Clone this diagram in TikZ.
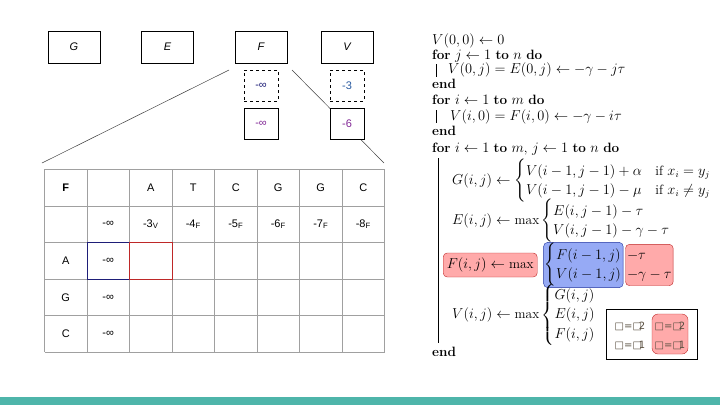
\documentclass[tikz,border=0pt]{standalone}
\usepackage{amsmath}
\usepackage{fontspec}
\setsansfont{Liberation Sans}
\newfontfamily\dv{DejaVu Sans}
\definecolor{teal1}{RGB}{78,181,170}
\definecolor{gridc}{RGB}{160,160,160}
\definecolor{navyc}{RGB}{30,30,120}
\definecolor{purp}{RGB}{130,40,150}
\definecolor{blu3}{RGB}{40,90,160}
\definecolor{redfill}{RGB}{255,170,170}
\definecolor{redline}{RGB}{190,40,40}
\definecolor{bluefill}{RGB}{150,170,245}
\definecolor{blueline}{RGB}{30,50,160}
\definecolor{glyph}{RGB}{90,80,65}
\begin{document}
\begin{tikzpicture}[x=1pt,y=-1pt,
  topbox/.style={draw, minimum width=52pt, minimum height=32pt, inner sep=0pt, font=\sffamily\itshape\fontsize{11}{13}\selectfont},
  valbox/.style={draw, fill=white, minimum width=34pt, minimum height=31pt, inner sep=0pt, font=\sffamily\fontsize{11}{13}\selectfont},
  tc/.style={inner sep=0pt, font=\sffamily\fontsize{11}{13}\selectfont},
  alg/.style={inner sep=0pt, anchor=base west, font=\fontsize{13.5}{16}\selectfont},
  algc/.style={inner sep=0pt, anchor=west, font=\fontsize{13.5}{16}\selectfont},
  redhl/.style={draw=redline, fill=redfill, rounded corners=4pt, inner sep=1.5pt},
  bluehl/.style={draw=blueline, fill=bluefill, rounded corners=4pt, inner sep=1pt},
  conn/.style={draw=black!75, line width=0.5pt},
  gl/.style={draw=gridc, line width=0.8pt}
]
\useasboundingbox (0,0) rectangle (720,405);
\fill[teal1] (0,397) rectangle (720,405);

% top boxes
\node[topbox] (G) at (74,47) {G};
\node[topbox] (E) at (167.5,47) {E};
\node[topbox] (F) at (261,47) {F};
\node[topbox] (V) at (347,47) {V};

% connectors (drawn before value boxes so boxes hide them)
\coordinate (fl) at (229,70);
\coordinate (fr) at (292,70);
\coordinate (tl) at (42,163);
\coordinate (tr) at (384,163);
\draw[conn] (fl) -- (tl);
\draw[conn] (fr) -- (tr);

\node[valbox, dashed] (Fd) at (261,85.5) {\textcolor{navyc}{-∞}};
\node[valbox, dashed] (Vd) at (347,85.5) {\textcolor{blu3}{-3}};
\node[valbox] (Fs) at (261,124) {\textcolor{purp}{-∞}};
\node[valbox] (Vs) at (347,124) {\textcolor{purp}{-6}};

% table
\foreach \i in {0,...,8} \draw[gl] ({44.5+42.5*\i},169.3) -- ({44.5+42.5*\i},352.3);
\foreach \j in {0,...,5} \draw[gl] (44.5,{169.3+36.6*\j}) -- (384.5,{169.3+36.6*\j});
\draw[navyc, line width=0.8pt] (87,242.5) rectangle (129.5,279.1);
\draw[redline, line width=0.8pt] (129.5,242.5) rectangle (172,279.1);
\node[tc, font=\sffamily\bfseries\fontsize{11}{13}\selectfont] (c00) at (65.75,187.6) {F};
\foreach \t [count=\i from 2] in {A,T,C,G,G,C}
  \node[tc] (h\i) at ({44.5+42.5*(\i+0.5)},187.6) {\t};
\node[tc] (r1c1) at (108.25,224.2) {-∞};
\node[tc] (r1c2) at (150.75,224.2) {-3\textsubscript{V}};
\foreach \v [count=\i from 3] in {4,5,6,7,8}
  \node[tc] (r1c\i) at ({44.5+42.5*(\i+0.5)},224.2) {-\v\textsubscript{F}};
\foreach \t [count=\j from 2] in {A,G,C}{
  \node[tc] (r\j c0) at (65.75,{169.3+36.6*(\j+0.5)}) {\t};
  \node[tc] (r\j c1) at (108.25,{169.3+36.6*(\j+0.5)}) {-∞};
}

% algorithm
\node[alg] (a1) at (432,44) {$V(0,0)\leftarrow 0$};
\node[alg] (a2) at (432,59) {\textbf{for} $j\leftarrow 1$ \textbf{to} $n$ \textbf{do}};
\draw (436,64) -- (436,77);
\node[alg] (a3) at (448,73) {$V(0,j)=E(0,j)\leftarrow -\gamma-j\tau$};
\node[alg] (a4) at (432,88) {\textbf{end}};
\node[alg] (a5) at (432,104) {\textbf{for} $i\leftarrow 1$ \textbf{to} $m$ \textbf{do}};
\draw (436,110) -- (436,123);
\node[alg] (a6) at (450,120) {$V(i,0)=F(i,0)\leftarrow -\gamma-i\tau$};
\node[alg] (a7) at (432,135) {\textbf{end}};
\node[alg] (a8) at (432,152) {\textbf{for} $i\leftarrow 1$ \textbf{to} $m$, $j\leftarrow 1$ \textbf{to} $n$ \textbf{do}};
\draw (438,158) -- (438,343);
\node[algc] (g) at (452,181) {$G(i,j)\leftarrow\begin{cases}V(i-1,j-1)+\alpha & \text{if } x_i=y_j\\ V(i-1,j-1)-\mu & \text{if } x_i\neq y_j\end{cases}$};
\node[algc] (e) at (452,221) {$E(i,j)\leftarrow\max\begin{cases}E(i,j-1)-\tau\\ V(i,j-1)-\gamma-\tau\end{cases}$};
\node[algc, redhl, minimum height=24pt, minimum width=94pt] (f) at (443,265) {$F(i,j)\leftarrow\max$};
\node[algc, bluehl, minimum height=41pt] (fb) at ([xshift=6pt]f.east) {$\left\{\renewcommand{\arraystretch}{1.2}\begin{array}{@{}l@{}}F(i-1,j)\\ V(i-1,j)\end{array}\right.$};
\node[algc, redhl, minimum height=41pt] (fr2) at ([xshift=2pt]fb.east) {$\renewcommand{\arraystretch}{1.2}\begin{array}{@{}l@{}}-\tau\\ -\gamma-\tau\end{array}$};
\node[algc] (v) at (452,315) {$V(i,j)\leftarrow\max\begin{cases}G(i,j)\\ E(i,j)\\ F(i,j)\end{cases}$};
\node[alg] (a9) at (432,356) {\textbf{end}};

% legend
\node[draw, minimum width=91pt, minimum height=50pt, inner sep=0pt] (leg) at (651.5,334) {};
\node[redhl, minimum width=36pt, minimum height=40pt, rounded corners=6pt] (legr) at (670,334) {};
\node[inner sep=0pt, text=glyph, font=\dv\fontsize{10}{12}\selectfont] (l1) at (630,326) {□=□\kern-3pt 2};
\node[inner sep=0pt, text=glyph, font=\dv\fontsize{10}{12}\selectfont] (l2) at (630,345) {□=□\kern-3pt 1};
\node[inner sep=0pt, text=glyph, font=\dv\fontsize{10}{12}\selectfont] (l3) at (670,326) {□=□\kern-3pt 2};
\node[inner sep=0pt, text=glyph, font=\dv\fontsize{10}{12}\selectfont] (l4) at (670,345) {□=□\kern-3pt 1};
\end{tikzpicture}
\end{document}
